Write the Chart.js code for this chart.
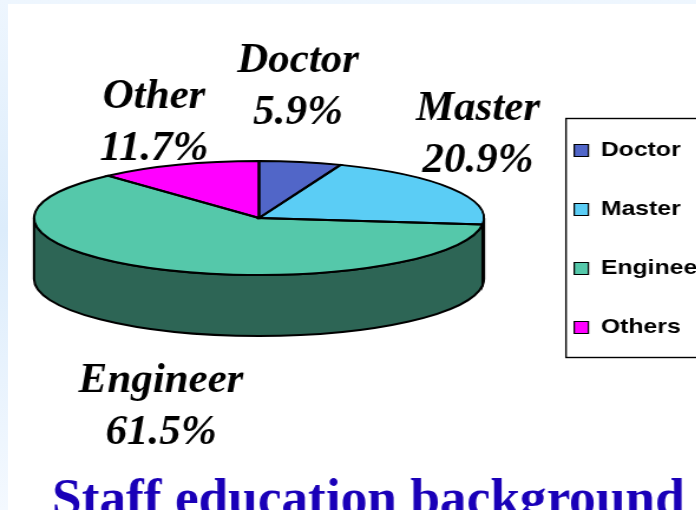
<!DOCTYPE html>
<html lang="en">
<head>
    <meta charset="UTF-8">
    <title>Staff education background</title>
    <script src="https://cdn.jsdelivr.net/npm/chart.js"></script>
    <style>
        html, body { margin: 0; padding: 0; height: 100%; overflow: hidden; }
        #wrap { position: relative; width: 696px; height: 510px; overflow: hidden;
                background: linear-gradient(180deg, #eef6fe 0%, #dcecfb 45%, #f4f9ff 100%); }
        #panel { position: absolute; left: 8px; top: 4px; right: 0; bottom: 0; background: #fff; }
        /* the reference legend is stretched sideways, so the whole canvas is too */
        #myChart { position: absolute; left: 0; top: 0; transform: scaleX(1.18); transform-origin: 0 0; }
    </style>
</head>
<body>
<div id="wrap">
    <div id="panel"></div>
    <canvas id="myChart" width="609" height="525"></canvas>
</div>
<script>
    const categories = ["Doctor", "Master", "Engineer", "Others"];
    const labelNames = ["Doctor", "Master", "Engineer", "Other"];
    const percents = [5.9, 20.9, 61.5, 11.7];
    const topColors = ["#5166c8", "#5bcdf5", "#55c8aa", "#ff00ff"];
    const wallColors = ["#2a3a70", "#2f7088", "#2d6555", "#800080"];
    const titleText = "Staff education background";

    const stretch = 1.18;
    // ellipse of the pie top, in canvas units
    const pie = { cx: 259 / stretch, cy: 218, rx: 225 / stretch, ry: 57, depth: 61 };
    const labelSpots = [[298, 72], [478, 120], [161, 392], [154, 108]];
    const labelGap = 52;

    const pie3d = {
        id: "pie3d",
        beforeDraw(chart) {
            const ctx = chart.ctx;
            ctx.save();
            ctx.strokeStyle = "#000";
            ctx.lineWidth = 1.4;
            ctx.strokeRect(566 / stretch, 118.5, 300, 239);
            ctx.restore();
        },
        beforeDatasetsDraw(chart) {
            const ctx = chart.ctx;
            const arcs = chart.getDatasetMeta(0).data;
            // front wall, only the part of each slice facing the viewer
            ctx.save();
            ctx.strokeStyle = "#000";
            ctx.lineWidth = 2;
            arcs.forEach(function (arc, i) {
                const a0 = Math.max(arc.startAngle, 0);
                const a1 = Math.min(arc.endAngle, Math.PI);
                if (a1 <= a0) return;
                ctx.beginPath();
                ctx.ellipse(pie.cx, pie.cy, pie.rx, pie.ry, 0, a0, a1);
                ctx.ellipse(pie.cx, pie.cy + pie.depth, pie.rx, pie.ry, 0, a1, a0, true);
                ctx.closePath();
                ctx.fillStyle = wallColors[i];
                ctx.fill();
                ctx.stroke();
            });
            ctx.restore();
            // squash the round pie into the ellipse
            const first = arcs[0];
            ctx.save();
            ctx.translate(pie.cx, pie.cy);
            ctx.scale(pie.rx / first.outerRadius, pie.ry / first.outerRadius);
            ctx.translate(-first.x, -first.y);
        },
        afterDatasetsDraw(chart) {
            const ctx = chart.ctx;
            ctx.restore();
            // outlines again without the squash, so the line weight stays even
            ctx.save();
            ctx.strokeStyle = "#000";
            ctx.lineWidth = 2;
            chart.getDatasetMeta(0).data.forEach(function (arc) {
                ctx.beginPath();
                ctx.moveTo(pie.cx, pie.cy);
                ctx.ellipse(pie.cx, pie.cy, pie.rx, pie.ry, 0, arc.startAngle, arc.endAngle);
                ctx.closePath();
                ctx.stroke();
            });
            ctx.restore();
        },
        afterDraw(chart) {
            const ctx = chart.ctx;
            ctx.save();
            // serif text is not stretched in the reference, undo the canvas stretch
            ctx.scale(1 / stretch, 1);
            ctx.fillStyle = "#000";
            ctx.textAlign = "center";
            ctx.textBaseline = "alphabetic";
            ctx.font = "italic bold 43px 'Liberation Serif'";
            labelNames.forEach(function (name, i) {
                const x = labelSpots[i][0];
                const y = labelSpots[i][1];
                ctx.fillText(name, x, y);
                ctx.fillText(percents[i].toFixed(1) + "%", x, y + labelGap);
            });
            ctx.textAlign = "left";
            ctx.fillStyle = "#1a00b8";
            ctx.font = "bold 53.3px 'Liberation Serif'";
            ctx.fillText(titleText, 52, 515);
            ctx.restore();
        }
    };

    new Chart(document.getElementById("myChart"), {
        type: "pie",
        data: {
            labels: categories,
            datasets: [{
                data: percents,
                backgroundColor: topColors,
                borderColor: "#000",
                borderWidth: 1.2,
                clip: false
            }]
        },
        options: {
            responsive: false,
            animation: false,
            events: [],
            layout: { padding: { top: 102 } },
            plugins: {
                tooltip: { enabled: false },
                legend: {
                    display: true,
                    position: "right",
                    align: "start",
                    labels: {
                        color: "#000",
                        boxWidth: 12,
                        boxHeight: 12,
                        padding: 38,
                        font: { family: "'Liberation Sans'", size: 21, weight: "bold" }
                    }
                }
            }
        },
        plugins: [pie3d]
    });
</script>
</body>
</html>
